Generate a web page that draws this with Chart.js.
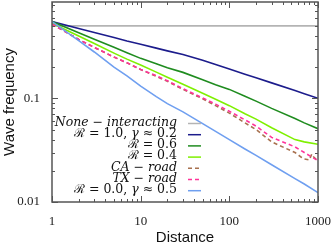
<!DOCTYPE html>
<html>
<head>
<meta charset="utf-8">
<script src="https://cdn.jsdelivr.net/npm/chart.js@4.4.1/dist/chart.umd.min.js"></script>
<style>
  html, body { margin: 0; padding: 0; background: #fff; }
</style>
</head>
<body>
<canvas id="waveChart" width="332" height="244"></canvas>
<script>
// Distances shared by most curves
const distance = [1, 2, 3, 5, 7, 10, 15, 20, 30, 50, 70, 100, 150, 200, 300, 550, 700, 1000];
// CA road has a noisy tail, so it gets its own sampling
const caDistance = [1, 2, 3, 5, 7, 10, 15, 20, 30, 50, 70, 100, 150, 200, 300, 550, 650, 700, 800, 850, 900, 950, 1000];

// Wave frequency
const noneInteracting = [0.5, 0.5, 0.5, 0.5, 0.5, 0.5, 0.5, 0.5, 0.5, 0.5, 0.5, 0.5, 0.5, 0.5, 0.5, 0.5, 0.5, 0.5];
const r10 = [0.55, 0.472, 0.432, 0.386, 0.358, 0.333, 0.305, 0.287, 0.265, 0.233, 0.212, 0.192, 0.171, 0.158, 0.141, 0.119, 0.111, 0.1];
const r06 = [0.55, 0.43, 0.372, 0.311, 0.276, 0.243, 0.216, 0.197, 0.178, 0.151, 0.135, 0.122, 0.105, 0.094, 0.08, 0.064, 0.058, 0.051];
const r04 = [0.53, 0.4, 0.338, 0.273, 0.239, 0.21, 0.179, 0.16, 0.137, 0.112, 0.098, 0.085, 0.071, 0.063, 0.052, 0.04, 0.038, 0.036];
const caRoad = [0.52, 0.37, 0.31, 0.25, 0.22, 0.19, 0.163, 0.146, 0.122, 0.099, 0.085, 0.072, 0.058, 0.05, 0.038, 0.03, 0.027, 0.026, 0.0255, 0.029, 0.027, 0.026, 0.025];
const txRoad = [0.52, 0.37, 0.31, 0.25, 0.22, 0.19, 0.165, 0.148, 0.124, 0.101, 0.088, 0.075, 0.062, 0.054, 0.042, 0.034, 0.03, 0.025];
const r00 = [0.55, 0.36, 0.28, 0.2, 0.165, 0.131, 0.104, 0.089, 0.074, 0.057, 0.048, 0.04, 0.0325, 0.0282, 0.0229, 0.0168, 0.0149, 0.0123];

// Axis ticks
const xMajorTicks = [1, 10, 100, 1000];
const xMinorTicks = [2, 3, 4, 5, 6, 7, 8, 9, 20, 30, 40, 50, 60, 70, 80, 90, 200, 300, 400, 500, 600, 700, 800, 900];
const yMajorTicks = [0.01, 0.1];
const yMinorTicks = [0.02, 0.03, 0.04, 0.05, 0.06, 0.07, 0.08, 0.09, 0.2, 0.3, 0.4, 0.5, 0.6, 0.7, 0.8];

const series = [
  { label: "None − interacting", xs: distance, ys: noneInteracting, color: "#b4b4b4", dash: [] },
  { label: "ℛ = 1.0, γ ≈ 0.2", xs: distance, ys: r10, color: "#1c1c8c", dash: [] },
  { label: "ℛ = 0.6", xs: distance, ys: r06, color: "#1f8c1f", dash: [] },
  { label: "ℛ = 0.4", xs: distance, ys: r04, color: "#7ff000", dash: [] },
  { label: "CA − road", xs: caDistance, ys: caRoad, color: "#a8714f", dash: [4, 3] },
  { label: "TX − road", xs: distance, ys: txRoad, color: "#ff3399", dash: [4, 3] },
  { label: "ℛ = 0.0, γ ≈ 0.5", xs: distance, ys: r00, color: "#6f9ff0", dash: [] },
];

const serifFont = '"Liberation Serif", "DejaVu Serif", serif';
const legendFont = '"DejaVu Serif", "Liberation Serif", serif';
const sansFont = '"Liberation Sans", Arial, sans-serif';

// Draw text with letters in italic and numbers/symbols upright, right aligned
function drawMathText(ctx, text, rightX, y, size) {
  const runs = text.match(/[A-Za-zα-ω]+|[^A-Za-zα-ω]+/g);
  const fonts = runs.map((r) => (/[A-Za-zα-ω]/.test(r) ? "italic " : "") + size + "px " + legendFont);
  const widths = runs.map((r, i) => {
    ctx.font = fonts[i];
    return ctx.measureText(r).width;
  });
  let x = rightX - widths.reduce((a, b) => a + b, 0);
  runs.forEach((r, i) => {
    ctx.font = fonts[i];
    ctx.fillText(r, x, y);
    x += widths[i];
  });
}

// Legend inside the plot: text on the left, line sample on the right
const insideLegend = {
  id: "insideLegend",
  afterDraw(chart) {
    const ctx = chart.ctx;
    ctx.save();
    ctx.textBaseline = "middle";
    ctx.fillStyle = "#111";
    series.forEach((s, i) => {
      const rowY = 122.5 + i * 11.2;
      drawMathText(ctx, s.label, 177, rowY, 12.5);
      ctx.beginPath();
      ctx.strokeStyle = s.color;
      ctx.lineWidth = 1.5;
      ctx.setLineDash(s.dash);
      ctx.moveTo(188, rowY + 1);
      ctx.lineTo(201, rowY + 1);
      ctx.stroke();
    });
    ctx.restore();
  },
};

// Full frame with inward ticks on all four sides
const frameTicks = {
  id: "frameTicks",
  afterDraw(chart) {
    const { ctx, chartArea: a, scales } = chart;
    const x = scales.x;
    const y = scales.y;
    ctx.save();
    ctx.strokeStyle = "#555";
    ctx.lineWidth = 1;
    ctx.beginPath();
    const tickX = (v, len) => {
      const px = Math.round(x.getPixelForValue(v)) + 0.5;
      ctx.moveTo(px, a.bottom);
      ctx.lineTo(px, a.bottom - len);
      ctx.moveTo(px, a.top);
      ctx.lineTo(px, a.top + len);
    };
    const tickY = (v, len) => {
      const py = Math.round(y.getPixelForValue(v)) + 0.5;
      ctx.moveTo(a.left, py);
      ctx.lineTo(a.left + len, py);
      ctx.moveTo(a.right, py);
      ctx.lineTo(a.right - len, py);
    };
    xMajorTicks.forEach((v) => tickX(v, 6));
    xMinorTicks.forEach((v) => tickX(v, 3));
    yMajorTicks.forEach((v) => tickY(v, 6));
    yMinorTicks.forEach((v) => tickY(v, 3));
    ctx.stroke();
    ctx.lineWidth = 1.5;
    ctx.strokeRect(a.left, a.top, a.right - a.left, a.bottom - a.top);
    ctx.restore();
  },
};

const ctx = document.getElementById("waveChart").getContext("2d");
const waveChart = new Chart(ctx, {
  type: "line",
  data: {
    datasets: series.map((s, i) => ({
      label: s.label,
      data: s.xs.map((d, k) => ({ x: d, y: s.ys[k] })),
      borderColor: s.color,
      backgroundColor: s.color,
      borderWidth: 1.6,
      borderDash: s.dash,
      pointRadius: 0,
      tension: 0,
      fill: false,
      order: series.length - i,
    })),
  },
  options: {
    responsive: false,
    animation: false,
    devicePixelRatio: 1,
    layout: { padding: { left: 0, right: 0, top: 2, bottom: 0 } },
    plugins: { legend: { display: false }, tooltip: { enabled: false } },
    scales: {
      x: {
        type: "logarithmic",
        min: 1,
        max: 1000,
        grid: { display: false, drawTicks: false },
        border: { display: false },
        afterBuildTicks: (scale) => {
          scale.ticks = xMajorTicks.map((v) => ({ value: v }));
        },
        afterFit: (scale) => {
          scale.height = 42;
          scale.paddingRight = 14;
        },
        ticks: {
          autoSkip: false,
          maxRotation: 0,
          padding: 12,
          color: "#222",
          font: { family: serifFont, size: 13 },
          callback: (v) => String(v),
        },
        title: {
          display: true,
          text: "Distance",
          color: "#111",
          font: { family: sansFont, size: 15 },
          padding: { top: 0, bottom: -3 },
        },
      },
      y: {
        type: "logarithmic",
        min: 0.01,
        max: 0.85,
        grid: { display: false, drawTicks: false },
        border: { display: false },
        afterBuildTicks: (scale) => {
          scale.ticks = yMajorTicks.map((v) => ({ value: v }));
        },
        afterFit: (scale) => {
          scale.width = 52;
          scale.paddingTop = 0;
          scale.paddingBottom = 0;
        },
        ticks: {
          padding: 12,
          color: "#222",
          font: { family: serifFont, size: 13 },
          callback: (v) => String(v),
        },
        title: {
          display: true,
          text: "Wave frequency",
          color: "#111",
          font: { family: sansFont, size: 15 },
          padding: { top: 1, bottom: 0 },
        },
      },
    },
  },
  plugins: [frameTicks, insideLegend],
});
</script>
</body>
</html>
